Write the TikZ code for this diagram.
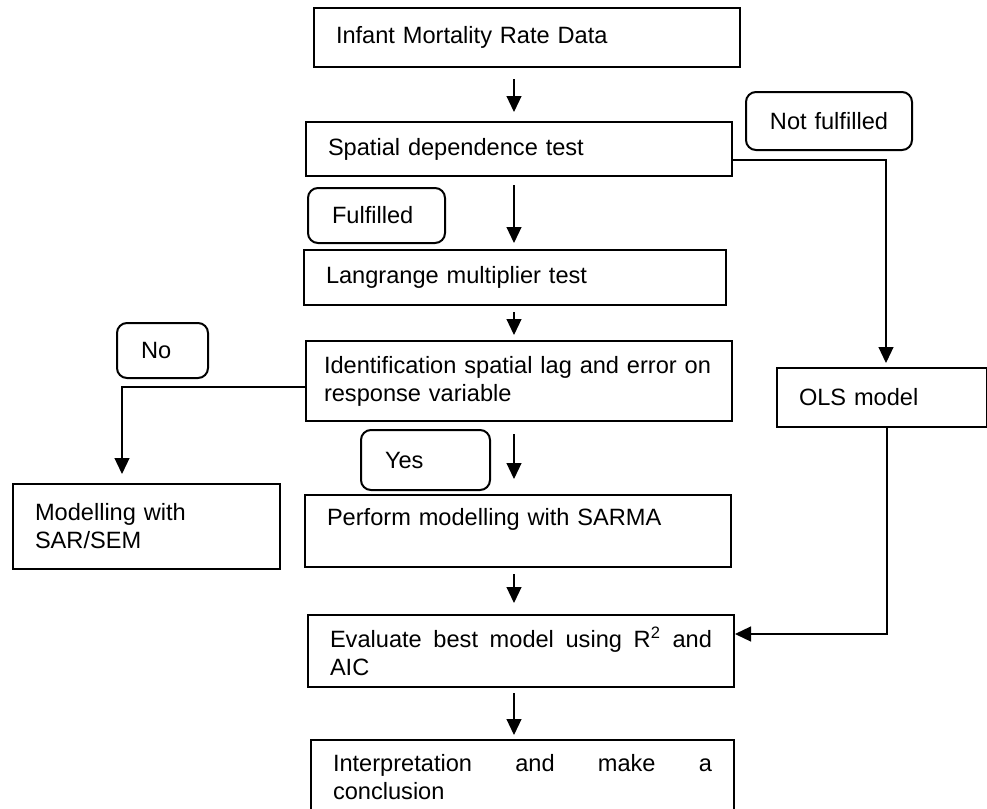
\documentclass[tikz,border=0pt]{standalone}
\usepackage{fontspec}
\setmainfont{Liberation Sans}
\usetikzlibrary{arrows.meta}

\begin{document}
\begin{tikzpicture}[x = 0.5pt, y = -0.5pt, font = \fontsize{11.8}{14}\selectfont,
	stage/.style = {draw = black, line width = 1pt, anchor = north west, align = left, inner xsep = 11pt, inner ysep = 0pt},
	verdict/.style = {stage, rounded corners = 5pt, inner xsep = 12pt},
	flow/.style = {draw = black, line width = 0.6pt, -{Triangle[length = 8pt, width = 7.5pt]}}]
	\useasboundingbox (0, 0) rectangle (987, 809);
	\coordinate (spine) at (514, 0);

	\node[stage, text width = 191pt, minimum height = 29.5pt] (data) at (313, 7) {Infant Mortality Rate Data};
	\node[stage, text width = 191pt, minimum height = 27pt] (spatial) at (305, 121) {Spatial dependence test};
	\node[stage, text width = 189pt, minimum height = 27.5pt] (lagr) at (303, 249) {Langrange multiplier test};
	\node[stage, text width = 195pt, inner xsep = 9pt, minimum height = 40pt] (ident) at (305, 340) {\mbox{Identification spatial lag and error on}\\response variable};
	\node[stage, text width = 191pt, minimum height = 36pt] (sarma) at (304, 494) {Perform modelling with SARMA\\\mbox{}};
	\node[stage, text width = 191pt, minimum height = 36pt, align = justify] (eval) at (307, 614) {Evaluate best model using R\textsuperscript{2} and\linebreak AIC};
	\node[stage, text width = 189.5pt, minimum height = 37pt, align = justify] (interp) at (310, 739) {Interpretation and make a\linebreak conclusion};
	\node[stage, text width = 111.5pt, minimum height = 42.5pt] (model) at (12, 483) {Modelling with\\SAR/SEM};
	\node[stage, text width = 83pt, minimum height = 29.5pt] (ols) at (776, 367) {OLS model};

	\node[verdict, text width = 62pt, inner xsep = 10.5pt, minimum height = 29pt, align = center] (notf) at (745, 91) {\mbox{Not fulfilled}};
	\node[verdict, text width = 44.5pt, minimum height = 27.5pt] (fulf) at (307, 187) {Fulfilled};
	\node[verdict, text width = 21.5pt, minimum height = 27.5pt] (no) at (116, 322) {No};
	\node[verdict, text width = 40.5pt, minimum height = 30pt] (yes) at (360, 429) {Yes};

	\foreach \from/\gapA/\gapB/\to in {data/5.5/4.5/spatial, spatial/4/3/lagr, lagr/3/2.5/ident, ident/6/7.5/sarma, sarma/3/5.5/eval, eval/2.5/2/interp}
		\draw[flow, shorten <= \gapA pt, shorten >= \gapB pt] (\from.south -| spine) -- (\to.north -| spine);

	\draw[flow, shorten >= 2pt] ([yshift = -5.5pt]spatial.east) -| ([xshift = 2pt]ols.north);
	\draw[flow, shorten >= 4.5pt] ([yshift = -3pt]ident.west) -| ([xshift = -12.25pt]model.north);
	\draw[flow] ([xshift = 2.5pt]ols.south) |- ([yshift = 8.5pt]eval.east);
\end{tikzpicture}
\end{document}
